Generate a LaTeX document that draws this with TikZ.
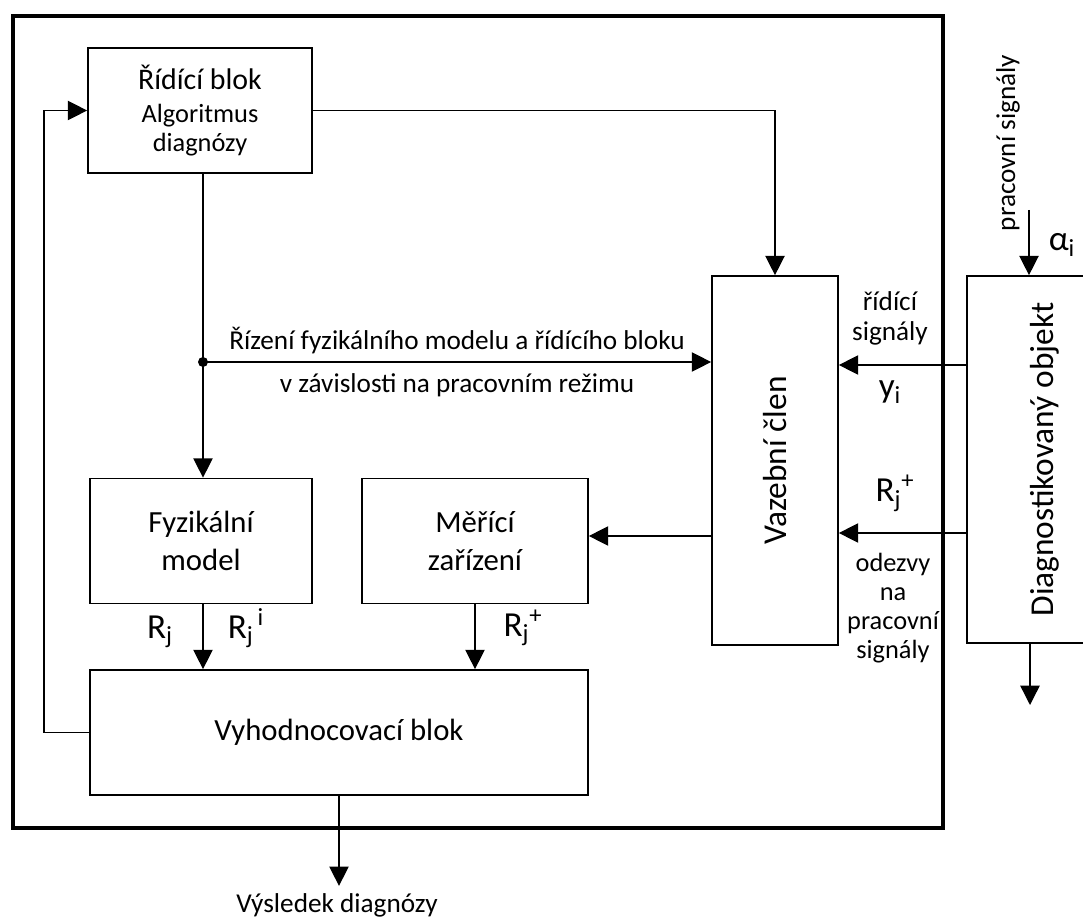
\documentclass[tikz,border=0pt]{standalone}
\usepackage{fontspec}
\setmainfont{Carlito}
\usetikzlibrary{arrows.meta}
\tikzset{>={Triangle[length=11pt,width=11pt]}}

\begin{document}
\begin{tikzpicture}[x=0.02cm, y=-0.02cm, line width=0.8pt,
    blok/.style={draw, line width=1pt, inner sep=0pt, align=center},
    popis/.style={align=center, font=\fontsize{15.5}{17}\selectfont},
    signal/.style={font=\fontsize{20}{22}\selectfont}]
    \useasboundingbox (0,0) rectangle (1083,919);
    % ramec
    \draw [line width=2.8pt] (13,16) rectangle (943,828);
    % bloky
    \node [blok, minimum width=4.48cm, minimum height=2.5cm, font=\fontsize{15}{16.5}\selectfont] (ridici) at (200,110.5)
        {{\fontsize{17}{18.7}\selectfont Řídící blok}\\[2pt]Algoritmus\\diagnózy};
    \node [blok, minimum width=4.44cm, minimum height=2.5cm, font=\fontsize{17.5}{21.5}\selectfont] (fyz) at (201,541) {Fyzikální\\model};
    \node [blok, minimum width=4.52cm, minimum height=2.5cm, font=\fontsize{17.5}{21.5}\selectfont] (mereni) at (475,541) {Měřící\\zařízení};
    \node [blok, minimum width=9.96cm, minimum height=2.5cm, font=\fontsize{17.5}{20}\selectfont] (vyhod) at (339,732.5) {Vyhodnocovací blok};
    \node [blok, minimum width=2.52cm, minimum height=7.38cm, font=\fontsize{19}{20}\selectfont] (vazebni) at (775,460.5) {\rotatebox{90}{Vazební člen}};
    \node [blok, minimum width=3.12cm, minimum height=7.34cm, font=\fontsize{19}{20}\selectfont] (diag) at (1045,459.5) {\rotatebox{90}{Diagnostikovaný objekt}};
    % spoje
    \draw [->] (ridici.east) -| (vazebni.north);
    \draw [->] (vyhod.west) -- ++(-45,0) |- (ridici.west);
    \draw [->] (ridici.south -| 203,0) -- (fyz.north -| 203,0);
    \coordinate (uzel) at (203,362);
    \fill (uzel) circle (5);
    \draw [->] (uzel) -- (uzel -| vazebni.west)
        node [popis, midway, above=1pt] {Řízení fyzikálního modelu a řídícího bloku}
        node [popis, midway, below=3pt] {v závislosti na pracovním režimu};
    \draw [->] (vazebni.west |- 0,536) -- (mereni.east |- 0,536);
    \draw [->] (fyz.south -| 203,0) -- (vyhod.north -| 203,0);
    \draw [->] (mereni.south) -- (mereni.south |- vyhod.north);
    \node [popis] (vysledek) at (337,905) {Výsledek diagnózy};
    \draw [->] (vyhod.south) -- ++(0,90);
    \draw [->] (diag.west |- 0,365) -- (vazebni.east |- 0,365);
    \draw [->] (diag.west |- 0,533) -- (vazebni.east |- 0,533);
    \coordinate (vstup) at (1029,210);
    \draw [->] (vstup) -- (vstup |- diag.north);
    \coordinate (vystup) at (1030,705);
    \draw [->] (vystup |- diag.south) -- (vystup);
    % popisy signalu
    \node [popis] (rsig) at (890,318) {řídící\\signály};
    \node [signal] (ysig) at (890,392) {y\textsubscript{i}};
    \node [signal] (rplus) at (895,493) {R\textsubscript{j}\textsuperscript{+}};
    \node [popis, font=\fontsize{15}{16.5}\selectfont] (odezvy) at (893,608) {odezvy\\na\\pracovní\\signály};
    \node [signal] (alfa) at (1062,245) {α\textsubscript{i}};
    \node [popis, rotate=90] (psig) at (1008,143) {pracovní signály};
    \node [signal] (rj) at (160,632) {R\textsubscript{j}};
    \node [signal] (rji) at (246,628) {R\textsubscript{j}\textsuperscript{\,i}};
    \node [signal] (rjplus) at (523,628) {R\textsubscript{j}\textsuperscript{+}};
\end{tikzpicture}
\end{document}
